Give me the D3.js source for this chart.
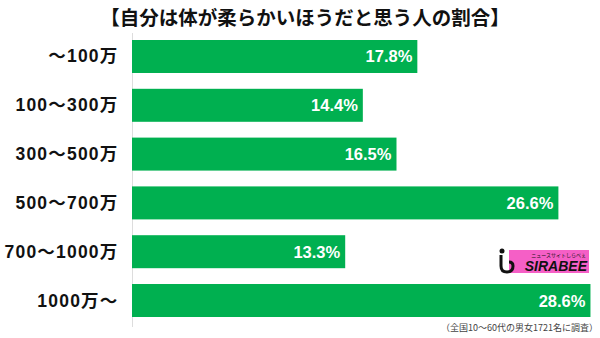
<!DOCTYPE html>
<html><head><meta charset="utf-8">
<script src="https://cdn.jsdelivr.net/npm/d3@7"></script>
<style>body{margin:0;background:#fff}svg{display:block}</style>
</head><body>
<script>
const title = "【自分は体が柔らかいほうだと思う人の割合】";
const categories = ["～100万","100～300万","300～500万","500～700万","700～1000万","1000万～"];
const values = [17.8,14.4,16.5,26.6,13.3,28.6];
const valueLabels = ["17.8%","14.4%","16.5%","26.6%","13.3%","28.6%"];
const footnote = "（全国10～60代の男女1721名に調査）";

const W=600,H=338;
const svg=d3.select("body").append("svg").attr("width",W).attr("height",H);
const x=d3.scaleLinear().domain([0,30]).range([132,132+30*16.03]);
const y=d3.scaleBand().domain(categories).range([40,317]).paddingInner(0.324).paddingOuter(0);

svg.append("text").attr("x",305).attr("y",25).attr("text-anchor","middle")
  .attr("font-family","'Noto Sans CJK JP'").attr("font-weight","bold").attr("font-size",19.5).attr("fill","#111").text(title);

svg.append("line").attr("x1",132.5).attr("x2",132.5).attr("y1",33).attr("y2",327).attr("stroke","#ddd").attr("stroke-width",1);

svg.selectAll("rect.bar").data(values).join("rect").attr("class","bar")
  .attr("x",x(0)).attr("y",(d,i)=>y(categories[i])).attr("width",d=>x(d)-x(0)).attr("height",y.bandwidth()).attr("fill","#00b050");

svg.selectAll("text.val").data(values).join("text").attr("class","val")
  .attr("x",d=>x(d)-5).attr("y",(d,i)=>y(categories[i])+y.bandwidth()/2+6)
  .attr("text-anchor","end").attr("font-family","'Liberation Sans',Arial").attr("font-weight","bold").attr("font-size",16.5).attr("fill","#fff")
  .text((d,i)=>valueLabels[i]);

svg.selectAll("text.cat").data(categories).join("text").attr("class","cat")
  .attr("x",118.5).attr("y",d=>y(d)+y.bandwidth()/2+6)
  .attr("text-anchor","end").attr("font-family","'Liberation Sans','Noto Sans CJK JP'").attr("font-weight","bold").attr("font-size",17.5).attr("letter-spacing",1.2).attr("fill","#111")
  .text(d=>d);

svg.append("text").attr("x",598).attr("y",331).attr("text-anchor","end")
  .attr("font-family","'Noto Sans CJK JP'").attr("font-size",9).attr("fill","#444").text(footnote);

// logo
const g=svg.append("g");
g.append("rect").attr("x",509).attr("y",250).attr("width",80).attr("height",23).attr("fill","#f55fc6");
g.append("text").attr("x",586).attr("y",256.5).attr("text-anchor","end").attr("font-family","'Noto Sans CJK JP'").attr("font-size",5).attr("fill","#111").text("ニュースサイトしらべぇ");
g.append("text").attr("x",587).attr("y",271).attr("text-anchor","end").attr("font-family","'Liberation Sans'").attr("font-weight","bold").attr("font-style","italic").attr("font-size",14).attr("fill","#111").text("SIRABEE");
g.append("circle").attr("cx",502).attr("cy",251).attr("r",2.5).attr("fill","#111");
g.append("path").attr("d","M501,255 L501,266 Q501,272 507,272 Q513,272 513,266 Q513,262 509,262").attr("fill","none").attr("stroke","#111").attr("stroke-width",3);
</script>
</body></html>
